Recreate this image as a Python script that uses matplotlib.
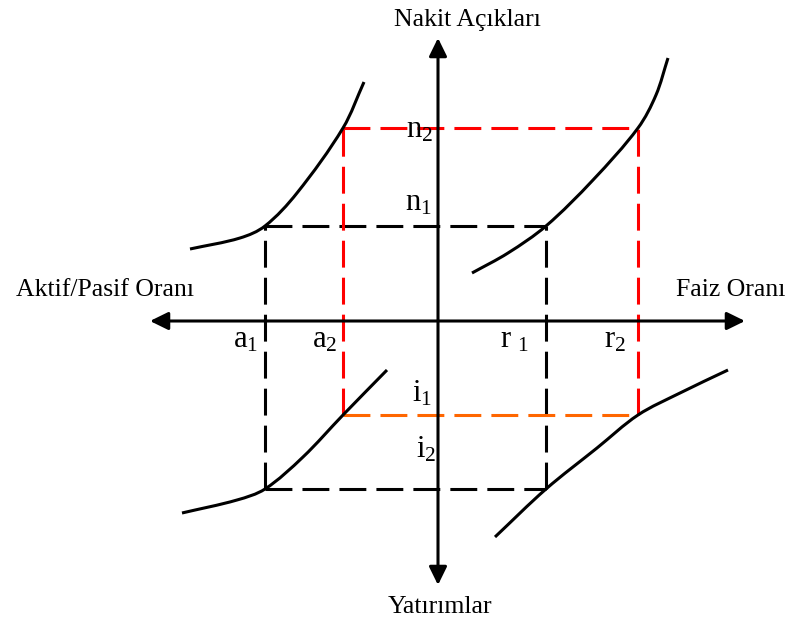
import matplotlib
matplotlib.use("Agg")
import math
import matplotlib.pyplot as plt
from matplotlib.path import Path
from matplotlib.patches import PathPatch

plt.rcParams['font.family'] = ['Liberation Serif', 'DejaVu Serif']
plt.rcParams['mathtext.fontset'] = 'custom'
plt.rcParams['mathtext.rm'] = 'Liberation Serif'
plt.rcParams['mathtext.it'] = 'Liberation Serif:italic'

# Levels on the axes (origin at axis crossing)
a1, a2 = -173, -95      # Aktif/Pasif oranı levels
r1, r2 = 108, 200       # Faiz oranı levels
n1, n2 = 95, 193        # Nakit açıkları levels
i1, i2 = -94, -168      # Yatırım levels

# Curves (quadrants)
ul_x = [-248, -198, -173, -141, -95, -74]
ul_y = [72, 83, 95, 128, 193, 239]
ur_x = [34, 70, 108, 155, 200, 218, 230]
ur_y = [48, 68, 95, 141, 193, 226, 263]
ll_x = [-256, -201, -173, -135, -95, -51]
ll_y = [-192, -179, -168, -136, -94, -49]
lr_x = [57, 108, 159, 200, 242, 290]
lr_y = [-216, -168, -127, -94, -72, -49]

# Axis extents
x_left, x_right = -288, 307
y_top, y_bottom = 283, -264

fig = plt.figure(figsize=(7.89, 6.26), dpi=100)
ax = fig.add_axes([0, 0, 1, 1])
ax.set_xlim(-438, 351)
ax.set_ylim(-305, 321)
ax.axis('off')

lw = 2.2
dash = (0, (8.8, 3.3))


def smooth_path(xs, ys):
    """Smooth curve through the read points, drawn as cubic Bezier segments
    whose handles follow the local direction and the segment length."""
    pts = list(zip(xs, ys))
    n = len(pts)
    tang = []
    for k in range(n):
        pa = pts[max(k - 1, 0)]
        pb = pts[min(k + 1, n - 1)]
        dx, dy = pb[0] - pa[0], pb[1] - pa[1]
        d = math.hypot(dx, dy)
        tang.append((dx / d, dy / d))
    verts = [pts[0]]
    codes = [Path.MOVETO]
    for k in range(n - 1):
        p1, p2 = pts[k], pts[k + 1]
        L = math.hypot(p2[0] - p1[0], p2[1] - p1[1]) / 3.0
        c1 = (p1[0] + tang[k][0] * L, p1[1] + tang[k][1] * L)
        c2 = (p2[0] - tang[k + 1][0] * L, p2[1] - tang[k + 1][1] * L)
        verts += [c1, c2, p2]
        codes += [Path.CURVE4] * 3
    return Path(verts, codes)


# black dashed rectangle
ax.plot([a1, a1], [i2, n1], color='black', lw=lw, linestyle=dash, zorder=2)
ax.plot([r1, r1], [i2, n1], color='black', lw=lw, linestyle=dash, zorder=2)
ax.plot([a1, r1], [n1, n1], color='black', lw=lw, linestyle=dash, zorder=2)
ax.plot([a1, r1], [i2, i2], color='black', lw=lw, linestyle=dash, zorder=2)
# red dashed rectangle
ax.plot([a2, a2], [i1, n2], color='#FF0000', lw=lw, linestyle=dash, zorder=2)
ax.plot([r2, r2], [i1, n2], color='#FF0000', lw=lw, linestyle=dash, zorder=2)
ax.plot([a2, r2], [n2, n2], color='#FF0000', lw=lw, linestyle=dash, zorder=2)
ax.plot([a2, r2], [i1, i1], color='#FF6600', lw=lw, linestyle=dash, zorder=2)

# curves
for cx, cy in [(ul_x, ul_y), (ur_x, ur_y), (ll_x, ll_y), (lr_x, lr_y)]:
    ax.add_patch(PathPatch(smooth_path(cx, cy), facecolor='none',
                           edgecolor='black', lw=2.2, capstyle='butt',
                           joinstyle='round', zorder=3))

# axes with arrows
arrow = dict(arrowstyle='<|-|>,head_length=0.55,head_width=0.27',
             mutation_scale=20, color='black', lw=lw, shrinkA=0, shrinkB=0)
ax.annotate('', xy=(x_right, 0), xytext=(x_left, 0), arrowprops=arrow, zorder=4)
ax.annotate('', xy=(0, y_top), xytext=(0, y_bottom), arrowprops=arrow, zorder=4)

tfs = 18.5
ax.text(29, 301, 'Nakit Açıkları', fontsize=tfs, ha='center', va='center')
ax.text(-333, 31, 'Aktif/Pasif Oranı', fontsize=tfs, ha='center', va='center')
ax.text(293, 31, 'Faiz Oranı', fontsize=tfs, ha='center', va='center')
ax.text(2, -286, 'Yatırımlar', fontsize=tfs, ha='center', va='center')

lfs = 22
labels = [
    (r'$\mathrm{n}_2$', -18, 191),
    (r'$\mathrm{n}_1$', -20, 118),
    (r'$\mathrm{a}_1$', -192, -19),
    (r'$\mathrm{a}_2$', -113, -19),
    (r'$\mathrm{r\ }_1$', 77, -19),
    (r'$\mathrm{r}_2$', 177, -19),
    (r'$\mathrm{i}_1$', -16, -73),
    (r'$\mathrm{i}_2$', -12, -129),
]
for s, x, y in labels:
    ax.text(x, y, s, fontsize=lfs, ha='center', va='center', zorder=5)

fig.savefig('out.png', dpi=100)
